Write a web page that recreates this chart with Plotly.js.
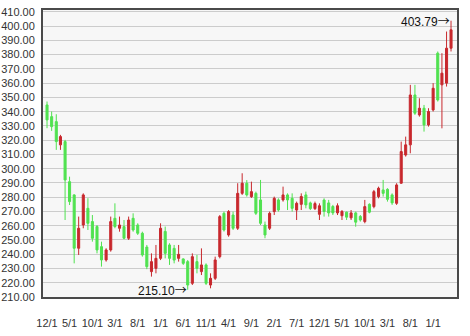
<!DOCTYPE html>
<html>
<head>
<meta charset="utf-8">
<script src="https://cdn.plot.ly/plotly-3.0.1.min.js"></script>
<style>html,body{margin:0;padding:0;background:#fff;}#chart{width:470px;height:336px;}</style>
</head>
<body>
<div id="chart"></div>
<script>
var dates = [
'2005-12-01',
'2006-01-01','2006-02-01','2006-03-01','2006-04-01','2006-05-01','2006-06-01','2006-07-01','2006-08-01','2006-09-01','2006-10-01','2006-11-01','2006-12-01',
'2007-01-01','2007-02-01','2007-03-01','2007-04-01','2007-05-01','2007-06-01','2007-07-01','2007-08-01','2007-09-01','2007-10-01','2007-11-01','2007-12-01',
'2008-01-01','2008-02-01','2008-03-01','2008-04-01','2008-05-01','2008-06-01','2008-07-01','2008-08-01','2008-09-01','2008-10-01','2008-11-01','2008-12-01',
'2009-01-01','2009-02-01','2009-03-01','2009-04-01','2009-05-01','2009-06-01','2009-07-01','2009-08-01','2009-09-01','2009-10-01','2009-11-01','2009-12-01',
'2010-01-01','2010-02-01','2010-03-01','2010-04-01','2010-05-01','2010-06-01','2010-07-01','2010-08-01','2010-09-01','2010-10-01','2010-11-01','2010-12-01',
'2011-01-01','2011-02-01','2011-03-01','2011-04-01','2011-05-01','2011-06-01','2011-07-01','2011-08-01','2011-09-01','2011-10-01','2011-11-01','2011-12-01',
'2012-01-01','2012-02-01','2012-03-01','2012-04-01','2012-05-01','2012-06-01','2012-07-01','2012-08-01','2012-09-01','2012-10-01','2012-11-01','2012-12-01',
'2013-01-01','2013-02-01','2013-03-01','2013-04-01','2013-05-01'
];
var openVals = [
344.7,336.5,333.0,316.7,319.0,290.9,281.6,244.2,260.5,272.2,
262.9,259.4,245.3,236.0,243.0,265.2,258.2,259.4,251.2,265.2,
260.5,254.7,245.0,227.8,230.1,237.1,256.0,246.5,244.1,237.1,
236.7,234.8,219.6,234.8,227.8,232.5,218.4,223.1,238.3,268.7,
253.5,267.5,258.2,282.7,289.8,280.4,282.7,278.1,260.5,258.2,
269.9,278.1,278.1,281.6,279.2,271.0,275.0,281.6,276.0,272.0,
268.0,278.0,276.0,273.5,269.0,267.0,269.5,265.5,269.0,266.5,
262.9,275.0,273.4,280.4,285.1,285.5,281.6,275.7,289.8,309.6,
316.7,351.7,337.7,342.4,330.7,341.2,381.0,358.8,360.0,384.5
];
var highVals = [
347.1,340.1,338.2,323.7,320.2,294.4,282.0,266.4,282.7,279.3,
267.5,260.5,248.8,244.2,266.4,275.7,266.4,264.0,266.4,268.7,
261.7,255.8,246.5,240.6,246.5,261.7,259.4,247.7,246.5,246.5,
237.1,235.9,240.6,239.5,244.1,233.6,226.6,238.3,267.5,269.9,
271.0,269.9,289.8,296.8,292.0,290.9,283.9,292.1,262.9,269.9,
280.4,279.2,287.4,282.7,282.7,276.9,282.7,283.9,276.9,276.9,
275.7,279.2,278.1,274.6,275.7,271.0,269.9,271.0,269.9,267.5,
278.1,275.7,285.1,287.4,292.1,286.3,282.7,289.8,319.0,322.5,
358.8,358.8,349.4,344.7,342.4,360.0,382.2,381.0,396.2,403.79
];
var lowVals = [
328.4,326.5,313.2,313.2,264.0,274.5,233.6,239.5,258.2,257.0,
248.8,240.6,231.3,234.8,241.8,258.2,255.8,250.5,250.0,255.8,
253.5,238.3,229.5,224.3,226.6,235.9,237.1,232.5,233.6,234.8,
232.5,215.10,218.4,226.6,225.4,218.4,216.1,221.9,237.1,255.9,
252.3,257.0,257.0,281.6,280.4,279.5,267.5,260.5,251.2,257.0,
267.5,269.9,276.9,271.0,269.9,264.0,271.0,272.2,271.0,271.0,
264.0,266.4,266.4,267.5,267.5,264.0,264.0,264.0,259.3,262.9,
261.7,268.7,272.2,279.2,280.4,276.9,274.6,274.6,289.5,308.5,
310.8,337.7,336.5,326.0,329.5,340.1,347.1,328.3,357.6,382.2
];
var closeVals = [
334.2,329.5,319.0,322.5,292.1,276.9,244.2,258.2,281.6,261.7,
251.2,243.0,236.0,243.0,262.9,259.4,260.5,251.2,264.0,257.0,
254.7,239.5,231.3,234.8,237.1,258.2,240.6,237.1,235.9,239.9,
233.6,218.4,238.3,230.1,232.5,219.6,223.1,236.0,266.4,257.0,
269.9,258.2,282.7,289.8,281.6,283.9,268.7,261.7,253.5,268.7,
279.2,271.0,281.6,278.1,272.2,275.7,280.5,274.6,272.0,275.5,
274.0,270.0,269.0,269.0,274.0,270.0,266.0,269.0,262.5,264.0,
273.4,269.5,283.9,286.3,282.7,278.5,276.0,288.6,312.0,316.7,
351.7,338.9,342.4,330.7,340.1,356.4,348.2,367.0,384.5,397.4
];
var tickDates = [
'2005-12-01','2006-05-01','2006-10-01','2007-03-01','2007-08-01','2008-01-01',
'2008-06-01','2008-11-01','2009-04-01','2009-09-01','2010-02-01','2010-07-01',
'2010-12-01','2011-05-01','2011-10-01','2012-03-01','2012-08-01','2013-01-01'
];
var maxText = '403.79', minText = '215.10';
var maxDate = '2013-05-01', maxVal = 403.79;
var minDate = '2008-07-01', minVal = 215.10;
var arrowSpan = '<span style="font-family:\'Noto Sans CJK SC\'">\u2192</span>';

var trace = {
  type: 'candlestick',
  x: dates, open: openVals, high: highVals, low: lowVals, close: closeVals,
  increasing: {line: {color: '#c8282d', width: 1}, fillcolor: '#c8282d'},
  decreasing: {line: {color: '#50e250', width: 1}, fillcolor: '#50e250'},
  hoverinfo: 'skip', showlegend: false
};
var fontFam = '"Liberation Sans", Arial, sans-serif';
var layout = {
  width: 470, height: 336,
  margin: {l: 43, r: 13, t: 10, b: 39},
  paper_bgcolor: '#ffffff', plot_bgcolor: '#f7f7f7',
  showlegend: false,
  font: {family: fontFam, size: 11, color: '#333'},
  xaxis: {
    type: 'date',
    range: ['2005-11-04', '2013-06-10'],
    rangeslider: {visible: false},
    tickmode: 'array', tickvals: tickDates,
    tickformat: '%-m/%-d',
    ticks: 'outside', ticklen: 15, tickcolor: 'rgba(0,0,0,0)',
    showgrid: false, zeroline: false,
    showline: true, mirror: true, linecolor: '#4a4a4a', linewidth: 2,
    tickfont: {family: fontFam, size: 11, color: '#333'}
  },
  yaxis: {
    range: [210, 411.3],
    tickmode: 'linear', tick0: 210, dtick: 10, tickformat: '.2f',
    ticks: 'outside', ticklen: 4, tickcolor: 'rgba(0,0,0,0)',
    showgrid: true, gridcolor: '#cccccc', gridwidth: 1, zeroline: false,
    showline: true, mirror: true, linecolor: '#4a4a4a', linewidth: 2,
    tickfont: {family: fontFam, size: 11, color: '#333'}
  },
  annotations: [
    {x: maxDate, y: maxVal, text: maxText + arrowSpan, showarrow: false, xanchor: 'right', yanchor: 'middle', xshift: 1,
     font: {family: fontFam, size: 12, color: '#111'}},
    {x: minDate, y: minVal, text: minText + arrowSpan, showarrow: false, xanchor: 'right', yanchor: 'middle', xshift: 1,
     font: {family: fontFam, size: 12, color: '#111'}}
  ]
};
Plotly.newPlot('chart', [trace], layout, {displayModeBar: false, staticPlot: true});
</script>
</body>
</html>
